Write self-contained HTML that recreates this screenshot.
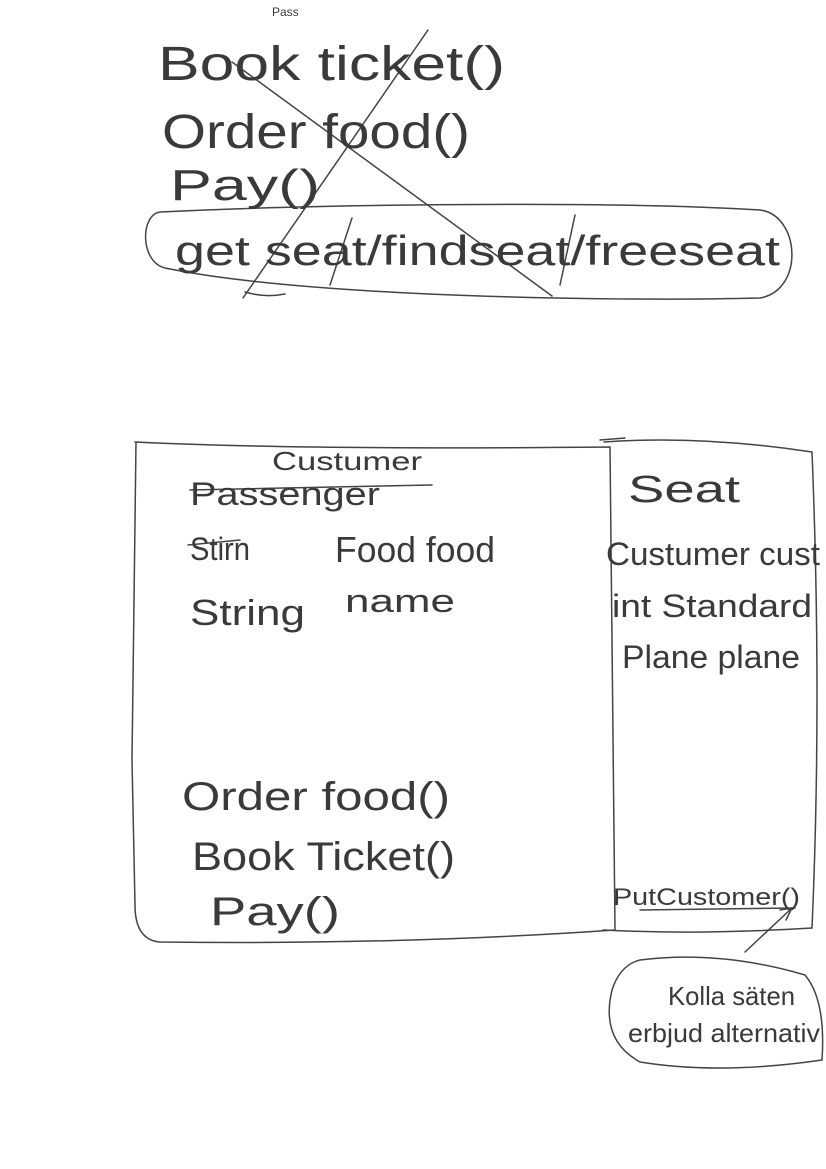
<!DOCTYPE html>
<html><head><meta charset="utf-8"><style>
html,body{margin:0;padding:0;background:#fff;}
svg{display:block}
text{font-family:"Liberation Sans",sans-serif;fill:#3a3a3a;font-weight:normal}
</style></head><body>
<svg width="826" height="1169" viewBox="0 0 826 1169" xmlns="http://www.w3.org/2000/svg">
<g fill="none" stroke="#444" stroke-width="1.5" stroke-linecap="round">
<path d="M160 212 C300 205 600 200 760 210 C800 215 805 290 760 298 C600 302 300 296 165 268 C140 262 140 215 160 212 Z"/>
<path d="M232 62 L552 296"/>
<path d="M243 298 L428 30"/>
<path d="M245 292 Q265 298 285 294"/>
<path d="M352 218 L330 285"/>
<path d="M575 215 L560 285"/>
<path d="M135 442 Q300 450 610 447 L615 930 Q400 945 160 942 Q135 940 135 905 L132 760 L136 442"/>
<path d="M604 442 Q700 435 812 452 Q822 700 812 928 Q700 935 603 930"/>
<path d="M600 440 L625 438"/>
<path d="M190 490 L432 485"/>
<path d="M188 545 L240 540"/>
<path d="M640 910 L795 908"/>
<path d="M745 952 L792 908"/>
<path d="M780 910 L792 908 L786 920"/>
<path d="M640 960 Q720 950 805 975 Q826 1000 822 1060 Q720 1075 640 1062 Q600 1040 612 990 Q620 965 640 960"/>
</g>
<g lengthAdjust="spacingAndGlyphs">
<text x="272" y="16" font-size="12">Pass</text>
<text x="158" y="80" font-size="48" textLength="347" lengthAdjust="spacingAndGlyphs">Book ticket()</text>
<text x="162" y="148" font-size="48" textLength="308" lengthAdjust="spacingAndGlyphs">Order food()</text>
<text x="170" y="200" font-size="44" textLength="150" lengthAdjust="spacingAndGlyphs">Pay()</text>
<text x="175" y="265" font-size="42" textLength="605" lengthAdjust="spacingAndGlyphs">get seat/findseat/freeseat</text>
<text x="272" y="470" font-size="26" fill="#777" textLength="150" lengthAdjust="spacingAndGlyphs">Custumer</text>
<text x="190" y="505" font-size="32" textLength="190" lengthAdjust="spacingAndGlyphs">Passenger</text>
<text x="190" y="560" font-size="32" textLength="60" lengthAdjust="spacingAndGlyphs">Stirn</text>
<text x="335" y="562" font-size="36" textLength="160" lengthAdjust="spacingAndGlyphs">Food food</text>
<text x="190" y="625" font-size="36" textLength="115" lengthAdjust="spacingAndGlyphs">String</text>
<text x="345" y="612" font-size="32" textLength="110" lengthAdjust="spacingAndGlyphs">name</text>
<text x="182" y="810" font-size="40" textLength="268" lengthAdjust="spacingAndGlyphs">Order food()</text>
<text x="192" y="870" font-size="40" textLength="263" lengthAdjust="spacingAndGlyphs">Book Ticket()</text>
<text x="210" y="925" font-size="40" textLength="130" lengthAdjust="spacingAndGlyphs">Pay()</text>
<text x="628" y="502" font-size="38" textLength="112" lengthAdjust="spacingAndGlyphs">Seat</text>
<text x="606" y="565" font-size="32" textLength="214" lengthAdjust="spacingAndGlyphs">Custumer cust</text>
<text x="612" y="617" font-size="32" textLength="200" lengthAdjust="spacingAndGlyphs">int Standard</text>
<text x="622" y="668" font-size="32" textLength="178" lengthAdjust="spacingAndGlyphs">Plane plane</text>
<text x="613" y="905" font-size="24" textLength="187" lengthAdjust="spacingAndGlyphs">PutCustomer()</text>
<text x="668" y="1005" font-size="26" textLength="127" lengthAdjust="spacingAndGlyphs">Kolla säten</text>
<text x="628" y="1042" font-size="26" textLength="192" lengthAdjust="spacingAndGlyphs">erbjud alternativ</text>
</g>
</svg>
</body></html>
